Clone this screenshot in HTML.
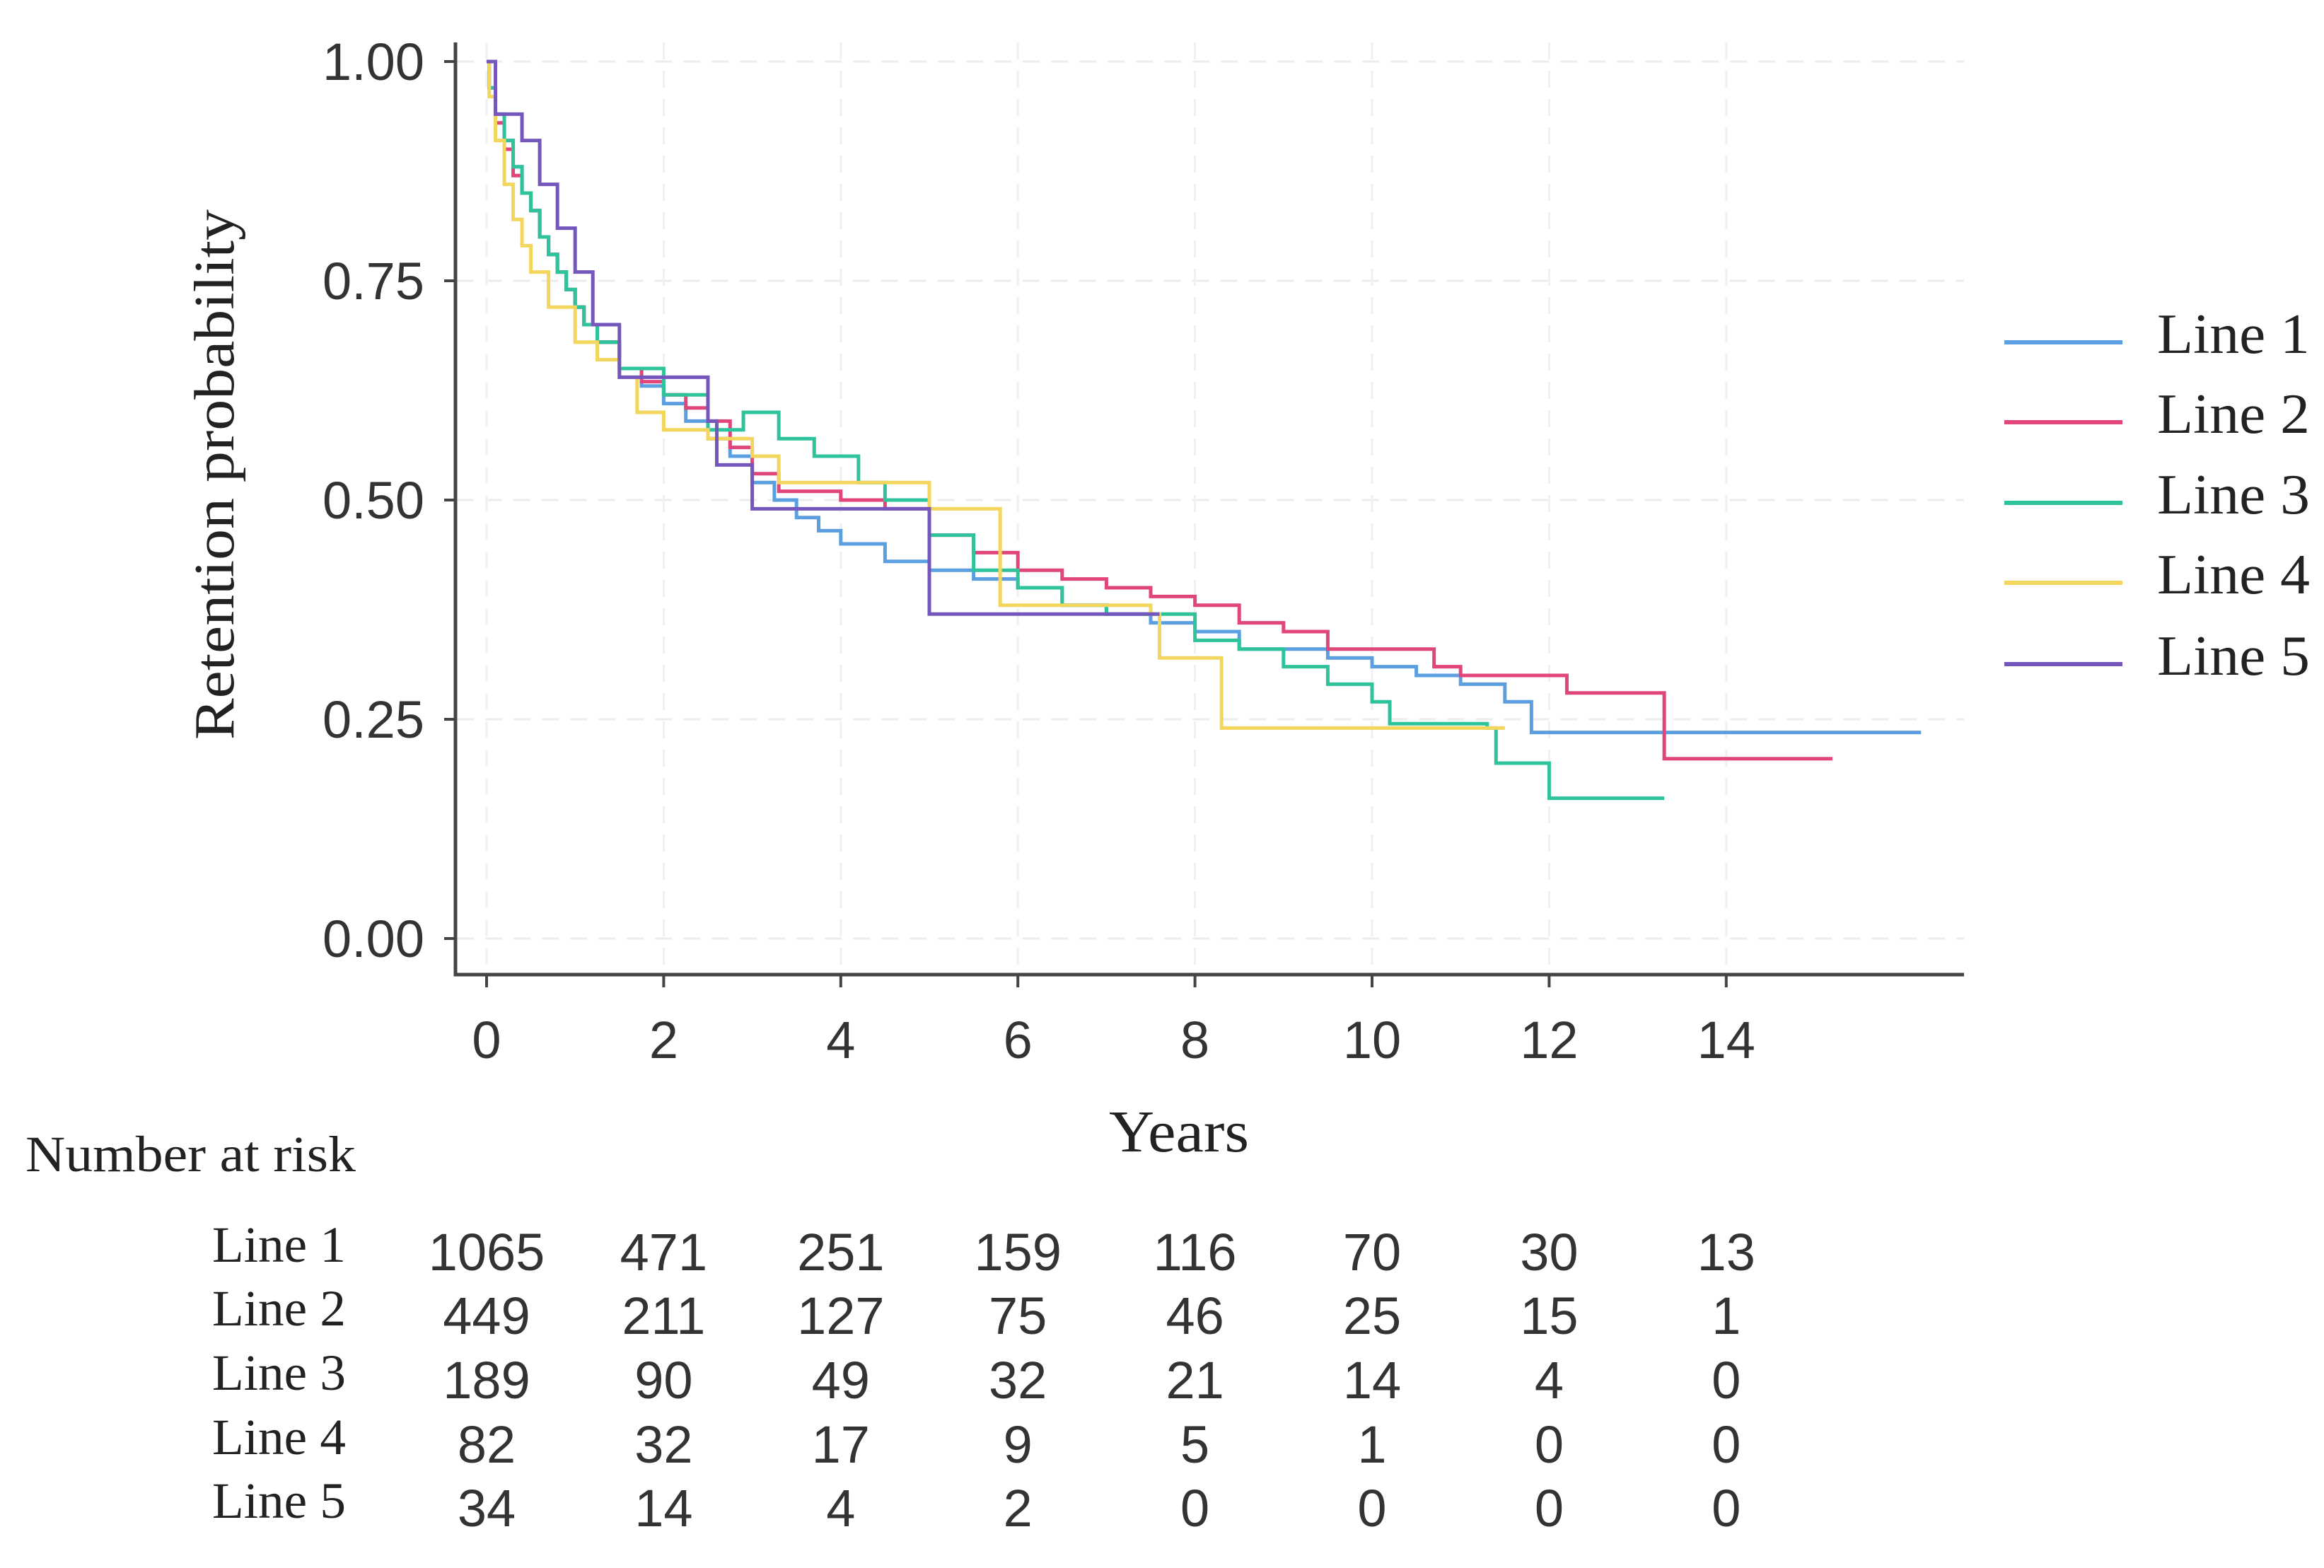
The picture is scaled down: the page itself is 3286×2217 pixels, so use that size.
<!DOCTYPE html>
<html><head><meta charset="utf-8"><style>
html,body{margin:0;padding:0;background:#fff;}
svg{display:block;}
.sans{font-family:"Liberation Sans",sans-serif;fill:#333;}
.serif{font-family:"Liberation Serif",serif;fill:#222;}
</style></head><body>
<svg id="chart" width="3286" height="2217" viewBox="0 0 3286 2217" xmlns="http://www.w3.org/2000/svg">
<g id="grid"></g>
<g id="axes"></g>
<g id="series"></g>
<g id="legend"></g>
<g id="risk"></g>
</svg>
<script>
const seriesNames=["Line 1","Line 2","Line 3","Line 4","Line 5"];
const seriesColors=["#5b9fe0","#e0457b","#2fc39c","#f2d65e","#7556bd"];
const xTicks=[0,2,4,6,8,10,12,14];
const yTicks=[0,0.25,0.5,0.75,1];
const yTickLabels=["0.00","0.25","0.50","0.75","1.00"];
const line1T=[0,0.03,0.1,0.2,0.3,0.4,0.5,0.6,0.7,0.8,0.9,1,1.1,1.25,1.5,1.75,2,2.25,2.5,2.75,3,3.25,3.5,3.75,4,4.5,5,5.5,6,6.5,7,7.5,8,8.5,9,9.5,10,10.5,11,11.5,11.8,16.2];
const line1S=[1,0.97,0.94,0.91,0.88,0.85,0.83,0.80,0.78,0.76,0.74,0.72,0.70,0.68,0.65,0.63,0.61,0.59,0.57,0.55,0.52,0.50,0.48,0.465,0.45,0.43,0.42,0.41,0.40,0.38,0.37,0.36,0.35,0.33,0.33,0.32,0.31,0.30,0.29,0.27,0.235,0.235];
const line2T=[0,0.03,0.1,0.2,0.3,0.4,0.5,0.6,0.7,0.8,0.9,1,1.1,1.25,1.5,1.75,2,2.25,2.5,2.75,3,3.3,4,4.5,5,5.5,6,6.5,7,7.5,8,8.5,9,9.5,10,10.7,11,12.2,13.3,15.2];
const line2S=[1,0.97,0.93,0.90,0.87,0.85,0.83,0.80,0.78,0.76,0.74,0.72,0.70,0.68,0.65,0.635,0.62,0.605,0.59,0.56,0.53,0.51,0.50,0.49,0.46,0.44,0.42,0.41,0.40,0.39,0.38,0.36,0.35,0.33,0.33,0.31,0.30,0.28,0.205,0.205];
const line3T=[0,0.03,0.1,0.2,0.3,0.4,0.5,0.6,0.7,0.8,0.9,1,1.1,1.25,1.5,2,2.5,2.9,3.3,3.7,4.2,4.5,5,5.5,6,6.5,7,8,8.5,9,9.5,10,10.2,11.3,11.4,12,13.3];
const line3S=[1,0.97,0.94,0.91,0.88,0.85,0.83,0.80,0.78,0.76,0.74,0.72,0.70,0.68,0.65,0.62,0.58,0.60,0.57,0.55,0.52,0.50,0.46,0.42,0.40,0.38,0.37,0.34,0.33,0.31,0.29,0.27,0.245,0.24,0.20,0.16,0.16];
const line4T=[0,0.03,0.1,0.2,0.3,0.4,0.5,0.7,1,1.25,1.5,1.7,2,2.5,3,3.3,4.5,5,5.8,7.5,7.6,8.3,11.5];
const line4S=[1,0.96,0.91,0.86,0.82,0.79,0.76,0.72,0.68,0.66,0.64,0.60,0.58,0.57,0.55,0.52,0.52,0.49,0.38,0.37,0.32,0.24,0.24];
const line5T=[0,0.1,0.4,0.6,0.8,1,1.2,1.5,2.5,2.6,3,5,7.6];
const line5S=[1,0.94,0.91,0.86,0.81,0.76,0.70,0.64,0.59,0.54,0.49,0.37,0.37];
const riskL1=[1065,471,251,159,116,70,30,13];
const riskL2=[449,211,127,75,46,25,15,1];
const riskL3=[189,90,49,32,21,14,4,0];
const riskL4=[82,32,17,9,5,1,0,0];
const riskL5=[34,14,4,2,0,0,0,0];

const NS="http://www.w3.org/2000/svg";
const X=t=>688+t*125.2;
const Y=s=>1327-s*1240;
function mk(tag,attrs,parent,text){const e=document.createElementNS(NS,tag);for(const k in attrs)e.setAttribute(k,attrs[k]);if(text!==undefined)e.textContent=text;parent.appendChild(e);return e;}
const grid=document.getElementById('grid'),axes=document.getElementById('axes'),ser=document.getElementById('series'),leg=document.getElementById('legend'),risk=document.getElementById('risk');
yTicks.forEach(v=>{const l=mk('line',{x1:646,x2:2777,y1:Y(v),y2:Y(v),stroke:'#ececec','stroke-width':3,'stroke-dasharray':'24 16'},grid);

});
xTicks.forEach(v=>{const l=mk('line',{x1:X(v),x2:X(v),y1:60,y2:1376,stroke:'#f0f0f0','stroke-width':3,'stroke-dasharray':'24 16'},grid);

});
let a=mk('path',{d:'M644 60 V1378 H2777',fill:'none',stroke:'#444','stroke-width':5},axes);


yTicks.forEach((v,i)=>{mk('line',{x1:628,x2:644,y1:Y(v),y2:Y(v),stroke:'#444','stroke-width':4},axes);
const t=mk('text',{x:600,y:Y(v)+26,'text-anchor':'end','font-size':74,class:'sans'},axes,yTickLabels[i]);

});
xTicks.forEach(v=>{mk('line',{x1:X(v),x2:X(v),y1:1378,y2:1396,stroke:'#444','stroke-width':4},axes);
const t=mk('text',{x:X(v),y:1496,'text-anchor':'middle','font-size':74,class:'sans'},axes,String(v));

});
let yt=mk('text',{x:0,y:0,transform:'translate(330,671) rotate(-90)','text-anchor':'middle','font-size':80,textLength:750,lengthAdjust:'spacingAndGlyphs',class:'serif'},axes,'Retention probability');


let xt=mk('text',{x:1667,y:1628,'text-anchor':'middle','font-size':84,textLength:198,lengthAdjust:'spacingAndGlyphs',class:'serif'},axes,'Years');


const Ts=[line1T,line2T,line3T,line4T,line5T],Ss=[line1S,line2S,line3S,line4S,line5S];
Ts.forEach((T,k)=>{const S=Ss[k];let d='M'+X(T[0])+' '+Y(S[0]);
for(let i=1;i<T.length;i++){d+=' H'+X(T[i])+' V'+Y(S[i]);}
const p=mk('path',{d:d,fill:'none',stroke:seriesColors[k],'stroke-width':5},ser);

});
const legY=[472,585,699,812,927];
seriesNames.forEach((n,k)=>{const g=mk('g',{},leg);


mk('line',{x1:2834,x2:3001,y1:legY[k]+12,y2:legY[k]+12,stroke:seriesColors[k],'stroke-width':6},g);
mk('text',{x:3050,y:legY[k]+27,'font-size':80,textLength:216,lengthAdjust:'spacingAndGlyphs',class:'serif'},g,n);});
const nr=mk('text',{x:36,y:1656,'font-size':72,textLength:467,lengthAdjust:'spacingAndGlyphs',class:'serif'},risk,'Number at risk');


const risks=[riskL1,riskL2,riskL3,riskL4,riskL5];
const rowY=[1768,1858,1949,2040,2130];
risks.forEach((r,k)=>{const lb=mk('text',{x:300,y:rowY[k]+16,'font-size':72,textLength:189,lengthAdjust:'spacingAndGlyphs',class:'serif'},risk,seriesNames[k]);


r.forEach((v,i)=>{const t=mk('text',{x:X(xTicks[i]),y:rowY[k]+28,'text-anchor':'middle','font-size':74,class:'sans'},risk,String(v));

});});
</script>
</body></html>
